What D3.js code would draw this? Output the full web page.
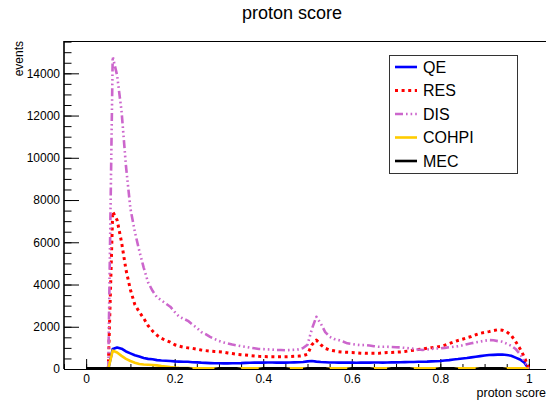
<!DOCTYPE html>
<html>
<head>
<meta charset="utf-8">
<script src="https://cdn.jsdelivr.net/npm/d3@7"></script>
<style>
  html, body { margin: 0; padding: 0; background: #fff; }
  svg { display: block; font-family: "Liberation Sans", Arial, Helvetica, sans-serif; }
</style>
</head>
<body>
<svg id="chart" width="546" height="401"></svg>
<script>
// Histogram bins: 101 bins of width 0.01, centred on 0.00, 0.01, ..., 1.00
const binCenters = d3.range(101).map(i => i / 100);

const seriesNames = ["QE", "RES", "DIS", "COHPI", "MEC"];

const qeCounts = [
  0, 0, 0, 0, 0, 0, 950, 1020, 960, 830,
  740, 650, 590, 520, 480, 460, 420, 400, 390, 380,
  360, 350, 340, 340, 320, 315, 300, 290, 280, 270,
  270, 265, 265, 270, 275, 280, 290, 295, 300, 300,
  300, 310, 305, 300, 310, 300, 305, 315, 320, 330,
  360, 380, 350, 330, 320, 310, 305, 300, 300, 305,
  300, 295, 300, 305, 300, 310, 305, 300, 310, 320,
  315, 320, 325, 330, 335, 340, 345, 350, 360, 370,
  380, 400, 420, 450, 470, 500, 520, 550, 580, 610,
  640, 660, 670, 680, 690, 660, 630, 540, 450, 300,
  0
];

const resCounts = [
  0, 0, 0, 0, 0, 0, 7450, 7050, 6000, 4700,
  3750, 3050, 2700, 2400, 2050, 1800, 1600, 1450, 1350, 1270,
  1150, 1080, 1030, 1000, 980, 940, 900, 870, 850, 830,
  820, 800, 760, 730, 700, 680, 660, 640, 620, 600,
  590, 580, 580, 575, 580, 580, 590, 600, 610, 630,
  700, 1150, 1370, 1150, 980, 900, 860, 820, 800, 790,
  785, 770, 750, 740, 745, 740, 740, 760, 780, 785,
  800, 810, 830, 860, 890, 920, 950, 980, 1010, 1040,
  1070, 1130, 1200, 1280, 1350, 1410, 1480, 1540, 1620, 1690,
  1730, 1770, 1820, 1860, 1840, 1760, 1600, 1300, 960, 560,
  0
];

const disCounts = [
  0, 0, 0, 0, 0, 0, 14790, 13900, 12200, 9600,
  7600, 6500, 5600, 4800, 4100, 3700, 3400, 3250, 3100, 2950,
  2700, 2480, 2380, 2280, 2100, 1950, 1750, 1650, 1520, 1420,
  1330, 1260, 1210, 1160, 1120, 1080, 1050, 1010, 980, 950,
  940, 930, 920, 900, 900, 890, 900, 910, 930, 990,
  1150, 1900, 2470, 2150, 1750, 1530, 1420, 1370, 1300, 1215,
  1180, 1150, 1130, 1135, 1110, 1080, 1054, 1050, 1054, 1040,
  1030, 1020, 1000, 980, 950, 920, 900, 920, 950, 970,
  980, 1000, 1030, 1054, 1080, 1120, 1170, 1215, 1260, 1300,
  1340, 1370, 1360, 1320, 1290, 1200, 1100, 950, 700, 380,
  0
];

const cohpiCounts = [
  0, 0, 0, 0, 0, 0, 870, 780, 620, 480,
  380, 300, 240, 210, 200, 190, 170, 140, 120, 90,
  70, 55, 45, 40, 35, 35, 35, 35, 35, 35,
  0, 0, 0, 0, 0, 35, 35, 35, 35, 35,
  0, 0, 0, 0, 0, 0, 35, 35, 35, 35,
  0, 0, 0, 0, 0, 35, 35, 35, 35, 35,
  0, 0, 0, 0, 0, 35, 35, 35, 35, 0,
  0, 0, 0, 0, 35, 35, 35, 35, 35, 35,
  0, 0, 0, 0, 35, 35, 35, 35, 35, 0,
  0, 0, 0, 0, 0, 35, 35, 35, 35, 35,
  0
];

const mecCounts = [
  30, 30, 30, 30, 30, 30, 30, 30, 30, 30,
  30, 30, 30, 30, 30, 30, 30, 30, 30, 30,
  30, 30, 30, 30, 0, 0, 0, 0, 0, 0,
  30, 30, 30, 30, 30, 0, 0, 0, 0, 0,
  30, 30, 30, 30, 30, 30, 0, 0, 0, 0,
  30, 30, 30, 30, 30, 0, 0, 0, 0, 0,
  30, 30, 30, 30, 30, 0, 0, 0, 0, 30,
  30, 30, 30, 30, 0, 0, 0, 0, 0, 0,
  30, 30, 30, 30, 0, 0, 0, 0, 0, 30,
  30, 30, 30, 30, 30, 0, 0, 0, 0, 0,
  0
];

const xMajorTicks = [0, 0.2, 0.4, 0.6, 0.8, 1];
const yMajorTicks = [0, 2000, 4000, 6000, 8000, 10000, 12000, 14000];

const styles = {
  QE:    { color: "#0000ff", dash: null,                          width: 2.6 },
  RES:   { color: "#ff0000", dash: "3,3.6",                       width: 3 },
  DIS:   { color: "#cc66cc", dash: "8,3,1.6,3,1.6,3,1.6,3",       width: 2.6 },
  COHPI: { color: "#ffcc00", dash: null,                          width: 2.6 },
  MEC:   { color: "#000000", dash: null,                          width: 2.6 }
};
const countsByName = { QE: qeCounts, RES: resCounts, DIS: disCounts, COHPI: cohpiCounts, MEC: mecCounts };

const svg = d3.select("#chart");
const plot = { left: 64, right: 551, top: 41, bottom: 369 };

const x = d3.scaleLinear().domain([-0.05, 1.05]).range([plot.left, plot.right]);
const y = d3.scaleLinear().domain([0, 15530]).range([plot.bottom, plot.top]);

svg.append("defs").append("clipPath").attr("id", "frame-clip")
  .append("rect")
  .attr("x", plot.left).attr("y", plot.top)
  .attr("width", plot.right - plot.left).attr("height", plot.bottom - plot.top);

// Title
svg.append("text")
  .attr("x", 292).attr("y", 19)
  .attr("text-anchor", "middle")
  .attr("font-size", 18)
  .attr("fill", "#000")
  .text("proton score");

// Top frame line
svg.append("line")
  .attr("x1", plot.left).attr("x2", plot.right)
  .attr("y1", plot.top + 0.5).attr("y2", plot.top + 0.5)
  .attr("stroke", "#000").attr("stroke-width", 1);

// Y axis: minor ticks, then major ticks with labels (ticks point into the frame)
const yMinor = d3.axisLeft(y)
  .tickValues(d3.range(0, 32).map(i => i * 500))
  .tickSize(-7.5).tickFormat("");
const yMajor = d3.axisLeft(y)
  .tickValues(yMajorTicks)
  .tickSize(-15).tickPadding(4)
  .tickFormat(d3.format("d"));

const gyMinor = svg.append("g").attr("transform", `translate(${plot.left},0)`).call(yMinor);
const gyMajor = svg.append("g").attr("transform", `translate(${plot.left},0)`).call(yMajor);
[gyMinor, gyMajor].forEach(g => {
  g.select(".domain").remove();
  g.selectAll("line").attr("stroke", "#000");
});
gyMajor.selectAll("text").attr("font-size", 12).attr("fill", "#000")
  .attr("font-family", "Liberation Sans, Arial, sans-serif");

// X axis: minor every 0.05, major every 0.2 (ticks point up into the frame)
const xMinor = d3.axisBottom(x)
  .tickValues(d3.range(-1, 22).map(i => i * 0.05))
  .tickSize(-5).tickFormat("");
const xMajor = d3.axisBottom(x)
  .tickValues(xMajorTicks)
  .tickSize(-10).tickPadding(5.5)
  .tickFormat(d => d3.format("~g")(d));

const gxMinor = svg.append("g").attr("transform", `translate(0,${plot.bottom})`).call(xMinor);
const gxMajor = svg.append("g").attr("transform", `translate(0,${plot.bottom})`).call(xMajor);
[gxMinor, gxMajor].forEach(g => {
  g.select(".domain").remove();
  g.selectAll("line").attr("stroke", "#000");
});
gxMajor.selectAll("text").attr("font-size", 12).attr("fill", "#000")
  .attr("font-family", "Liberation Sans, Arial, sans-serif");

// Axis lines
svg.append("line")
  .attr("x1", plot.left).attr("x2", plot.left)
  .attr("y1", plot.top).attr("y2", plot.bottom)
  .attr("stroke", "#000").attr("stroke-width", 1.6);
svg.append("line")
  .attr("x1", plot.left).attr("x2", plot.right)
  .attr("y1", plot.bottom + 0.5).attr("y2", plot.bottom + 0.5)
  .attr("stroke", "#000").attr("stroke-width", 1);

// Axis titles
svg.append("text")
  .attr("transform", `translate(23,${plot.top}) rotate(-90)`)
  .attr("text-anchor", "end")
  .attr("font-size", 12)
  .attr("fill", "#000")
  .text("events");
svg.append("text")
  .attr("x", 546).attr("y", 397)
  .attr("text-anchor", "end")
  .attr("font-size", 12.5)
  .attr("fill", "#000")
  .text("proton score");

// Histogram drawn as a line through bin centres; empty stretches stay undrawn
function binPoints(counts) {
  return counts.map((c, i) => {
    const prev = i > 0 ? counts[i - 1] : 0;
    const next = i < counts.length - 1 ? counts[i + 1] : 0;
    return { x: binCenters[i], v: c, on: c > 0 || prev > 0 || next > 0 };
  });
}

const histLine = d3.line()
  .defined(p => p.on)
  .x(p => x(p.x))
  .y(p => y(p.v));

const curves = svg.append("g").attr("clip-path", "url(#frame-clip)");
seriesNames.forEach(name => {
  const st = styles[name];
  curves.append("path")
    .datum(binPoints(countsByName[name]))
    .attr("d", histLine)
    .attr("fill", "none")
    .attr("stroke", st.color)
    .attr("stroke-width", st.width)
    .attr("stroke-dasharray", st.dash)
    .attr("stroke-linejoin", "round");
});

// Legend
const legend = svg.append("g");
legend.append("rect")
  .attr("x", 389.5).attr("y", 55.5)
  .attr("width", 128).attr("height", 118)
  .attr("fill", "#fff")
  .attr("stroke", "#333").attr("stroke-width", 1);

seriesNames.forEach((name, i) => {
  const st = styles[name];
  const cy = 67 + i * 23.5;
  legend.append("line")
    .attr("x1", 395).attr("x2", 417)
    .attr("y1", cy).attr("y2", cy)
    .attr("stroke", st.color)
    .attr("stroke-width", st.width)
    .attr("stroke-dasharray", st.dash);
  legend.append("text")
    .attr("x", 423).attr("y", cy + 5.8)
    .attr("font-size", 16)
    .attr("fill", "#000")
    .text(name);
});
</script>
</body>
</html>
